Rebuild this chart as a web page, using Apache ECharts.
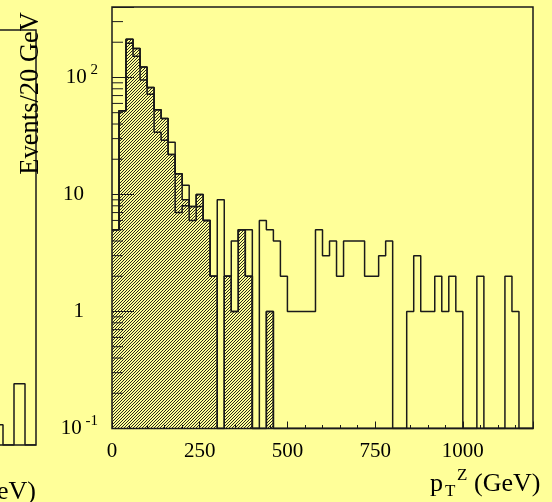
<!DOCTYPE html>
<html>
<head>
<meta charset="utf-8">
<script src="https://cdn.jsdelivr.net/npm/echarts@6/dist/echarts.min.js"></script>
<style>
html,body{margin:0;padding:0;background:#ffff99;}
#chart{width:552px;height:502px;}
</style>
</head>
<body>
<div id="chart"></div>
<script>
// ---------------- data ----------------
const binWidth = 20; // GeV
const binStarts = [0,20,40,60,80,100,120,140,160,180,200,220,240,260,280,300,320,340,360,380,
  400,420,440,460,480,500,520,540,560,580,600,620,640,660,680,700,720,740,760,780,
  800,820,840,860,880,900,920,940,960,980,1000,1020,1040,1060,1080,1100,1120,1140,1160,1180];
// open histogram (all events)
const totalEvents = [5,52,212,177,123,82,53,44.5,28,15,12,7.9,10,6,2,9,2,4,5,5,
  0,6,5,4,2,1,1,1,1,5,3,4,2,4,4,4,2,2,3,4,
  0,0,1,3,1,1,2,1,2,1,0,0,2,0,0,0,2,1,0,0];
// hatched histogram
const hatchedEvents = [5,52,212,177,123,82,53,44.5,22,15,9,7.9,10,6,2,0,2,1,5,2,
  0,0,1,0,0,0,0,0,0,0,0,0,0,0,0,0,0,0,0,0,
  0,0,0,0,0,0,0,0,0,0,0,0,0,0,0,0,0,0,0,0];
// inner outline inside the hatched histogram
const innerEvents = [5,52,196,152,95,72,34,29,22,7,8,6,7.9,6,2,0,2,1,5,2,
  0,0,1,0,0,0,0,0,0,0,0,0,0,0,0,0,0,0,0,0];
// neighbouring (cut-off) panel on the left
const leftBinStarts = [720,740,760,780];
const leftEvents = [0.15,0,0.34,0];

const xLabelValues = [0,250,500,750,1000];
const yLabelExponents = [-1,0,1,2];
const yLabelBase = ['10','1','10','10'];
const yLabelSup = ['-1','','','2'];
const yMinorTicks = [0.2,0.3,0.4,0.5,0.6,0.7,0.8,0.9,2,3,4,5,6,7,8,9,20,30,40,50,60,70,80,90,200,300];
const yMin = 0.1, yMax = 400;

// ---------------- helpers ----------------
function stepData(starts, vals, width) {
  const d = starts.map((s, i) => [s, vals[i] > 0 ? vals[i] : yMin]);
  d.push([starts[starts.length - 1] + width, d[d.length - 1][1]]);
  return d;
}
function makeHatch() {
  const c = document.createElement('canvas');
  c.width = 3; c.height = 3;
  const ctx = c.getContext('2d');
  const img = ctx.createImageData(3, 3);
  for (let j = 0; j < 3; j++) for (let i = 0; i < 3; i++) {
    if ((i + j) % 3 === 2) {
      const k = (j * 3 + i) * 4;
      img.data[k] = 40; img.data[k + 1] = 40; img.data[k + 2] = 25; img.data[k + 3] = 255;
    }
  }
  ctx.putImageData(img, 0, 0);
  return c;
}
const INK = '#1a1a1a';
const SERIF = '"Liberation Serif","DejaVu Serif",serif';

const chart = echarts.init(document.getElementById('chart'), null, {renderer: 'canvas'});
const option = {
  backgroundColor: '#ffff99',
  animation: false,
  grid: [
    {left: 112, top: 7, width: 421, height: 421.5, show: true, borderColor: INK, borderWidth: 1.5,
     backgroundColor: 'transparent', outerBoundsMode: 'none', containLabel: false},
    {left: -404, top: 30, width: 440, height: 415, show: true, borderColor: INK, borderWidth: 1.5,
     backgroundColor: 'transparent', outerBoundsMode: 'none', containLabel: false}
  ],
  xAxis: [
    {gridIndex: 0, type: 'value', min: 0, max: 1200, interval: 250, position: 'bottom', z: 10,
     axisLine: {show: false}, splitLine: {show: false},
     axisTick: {show: true, inside: true, length: 7, lineStyle: {color: INK, width: 1}},
     axisLabel: {margin: 12, fontFamily: SERIF, fontSize: 21, color: '#000',
       formatter: v => xLabelValues.indexOf(v) >= 0 ? String(v) : ''}},
    {gridIndex: 0, type: 'value', min: 0, max: 1200, interval: 50, position: 'bottom', z: 10,
     axisLine: {show: false}, splitLine: {show: false}, axisLabel: {show: false},
     axisTick: {show: true, inside: true, length: 3.5, lineStyle: {color: INK, width: 1}}},
    {gridIndex: 1, type: 'value', min: 0, max: 800, show: false}
  ],
  yAxis: [
    {gridIndex: 0, type: 'log', logBase: 10, min: yMin, max: yMax, z: 10,
     axisLine: {show: false}, splitLine: {show: false},
     axisTick: {show: true, inside: true, length: 22, lineStyle: {color: INK, width: 1}},
     axisLabel: {margin: 14, color: '#000',
       formatter: v => {
         const l = Math.log10(v), e = Math.round(l);
         if (Math.abs(l - e) > 1e-6) return '';
         const i = yLabelExponents.indexOf(e);
         if (i < 0) return '';
         return yLabelSup[i] ? '{n|' + yLabelBase[i] + '}{s| ' + yLabelSup[i] + '}' : '{p|' + yLabelBase[i] + '}';
       },
       rich: {
         n: {fontFamily: SERIF, fontSize: 21, lineHeight: 30, color: '#000'},
         p: {fontFamily: SERIF, fontSize: 21, lineHeight: 30, color: '#000', padding: [0, 14, 0, 0]},
         s: {fontFamily: SERIF, fontSize: 15, lineHeight: 15, verticalAlign: 'top', color: '#000'}
       }}},
    {gridIndex: 1, type: 'log', logBase: 10, min: yMin, max: yMax, show: false}
  ],
  series: [
    {type: 'line', name: 'hatched', xAxisIndex: 0, yAxisIndex: 0, step: 'end', symbol: 'none', z: 3,
     data: stepData(binStarts, hatchedEvents, binWidth),
     lineStyle: {color: INK, width: 1.5},
     areaStyle: {color: {image: makeHatch(), repeat: 'repeat'}, opacity: 1, origin: 'start'}},
    {type: 'line', name: 'inner', xAxisIndex: 0, yAxisIndex: 0, step: 'end', symbol: 'none', z: 4,
     data: stepData(binStarts, innerEvents, binWidth),
     lineStyle: {color: INK, width: 1.5}},
    {type: 'line', name: 'total', xAxisIndex: 0, yAxisIndex: 0, step: 'end', symbol: 'none', z: 5,
     data: stepData(binStarts, totalEvents, binWidth),
     lineStyle: {color: INK, width: 1.5}},
    {type: 'line', name: 'leftPanel', xAxisIndex: 2, yAxisIndex: 1, step: 'end', symbol: 'none', z: 5,
     data: stepData(leftBinStarts, leftEvents, binWidth),
     lineStyle: {color: INK, width: 1.5}},
    {type: 'custom', name: 'yMinorTicks', xAxisIndex: 0, yAxisIndex: 0, z: 10, silent: true, clip: false,
     data: yMinorTicks.map(v => [0, v]),
     renderItem: (params, api) => {
       const p = api.coord([api.value(0), api.value(1)]);
       return {type: 'line', shape: {x1: p[0], y1: p[1], x2: p[0] + 11, y2: p[1]},
               style: {stroke: INK, lineWidth: 1}};
     }}
  ],
  graphic: [
    {type: 'text', x: 31, y: 12, rotation: Math.PI / 2, z: 20,
     style: {text: 'Events/20 GeV', font: '26.5px ' + SERIF, fill: '#000', align: 'right', verticalAlign: 'middle'}},
    {type: 'text', x: 430, y: 484, z: 20,
     style: {text: 'p', font: '26px ' + SERIF, fill: '#000', align: 'left', verticalAlign: 'middle'}},
    {type: 'text', x: 445, y: 492, z: 20,
     style: {text: 'T', font: '17px ' + SERIF, fill: '#000', align: 'left', verticalAlign: 'middle'}},
    {type: 'text', x: 457, y: 476, z: 20,
     style: {text: 'Z', font: '17px ' + SERIF, fill: '#000', align: 'left', verticalAlign: 'middle'}},
    {type: 'text', x: 474, y: 484, z: 20,
     style: {text: '(GeV)', font: '26px ' + SERIF, fill: '#000', align: 'left', verticalAlign: 'middle'}},
    {type: 'text', x: 36, y: 492, z: 20,
     style: {text: '(GeV)', font: '26px ' + SERIF, fill: '#000', align: 'right', verticalAlign: 'middle'}}
  ]
};
chart.setOption(option);
</script>
</body>
</html>
